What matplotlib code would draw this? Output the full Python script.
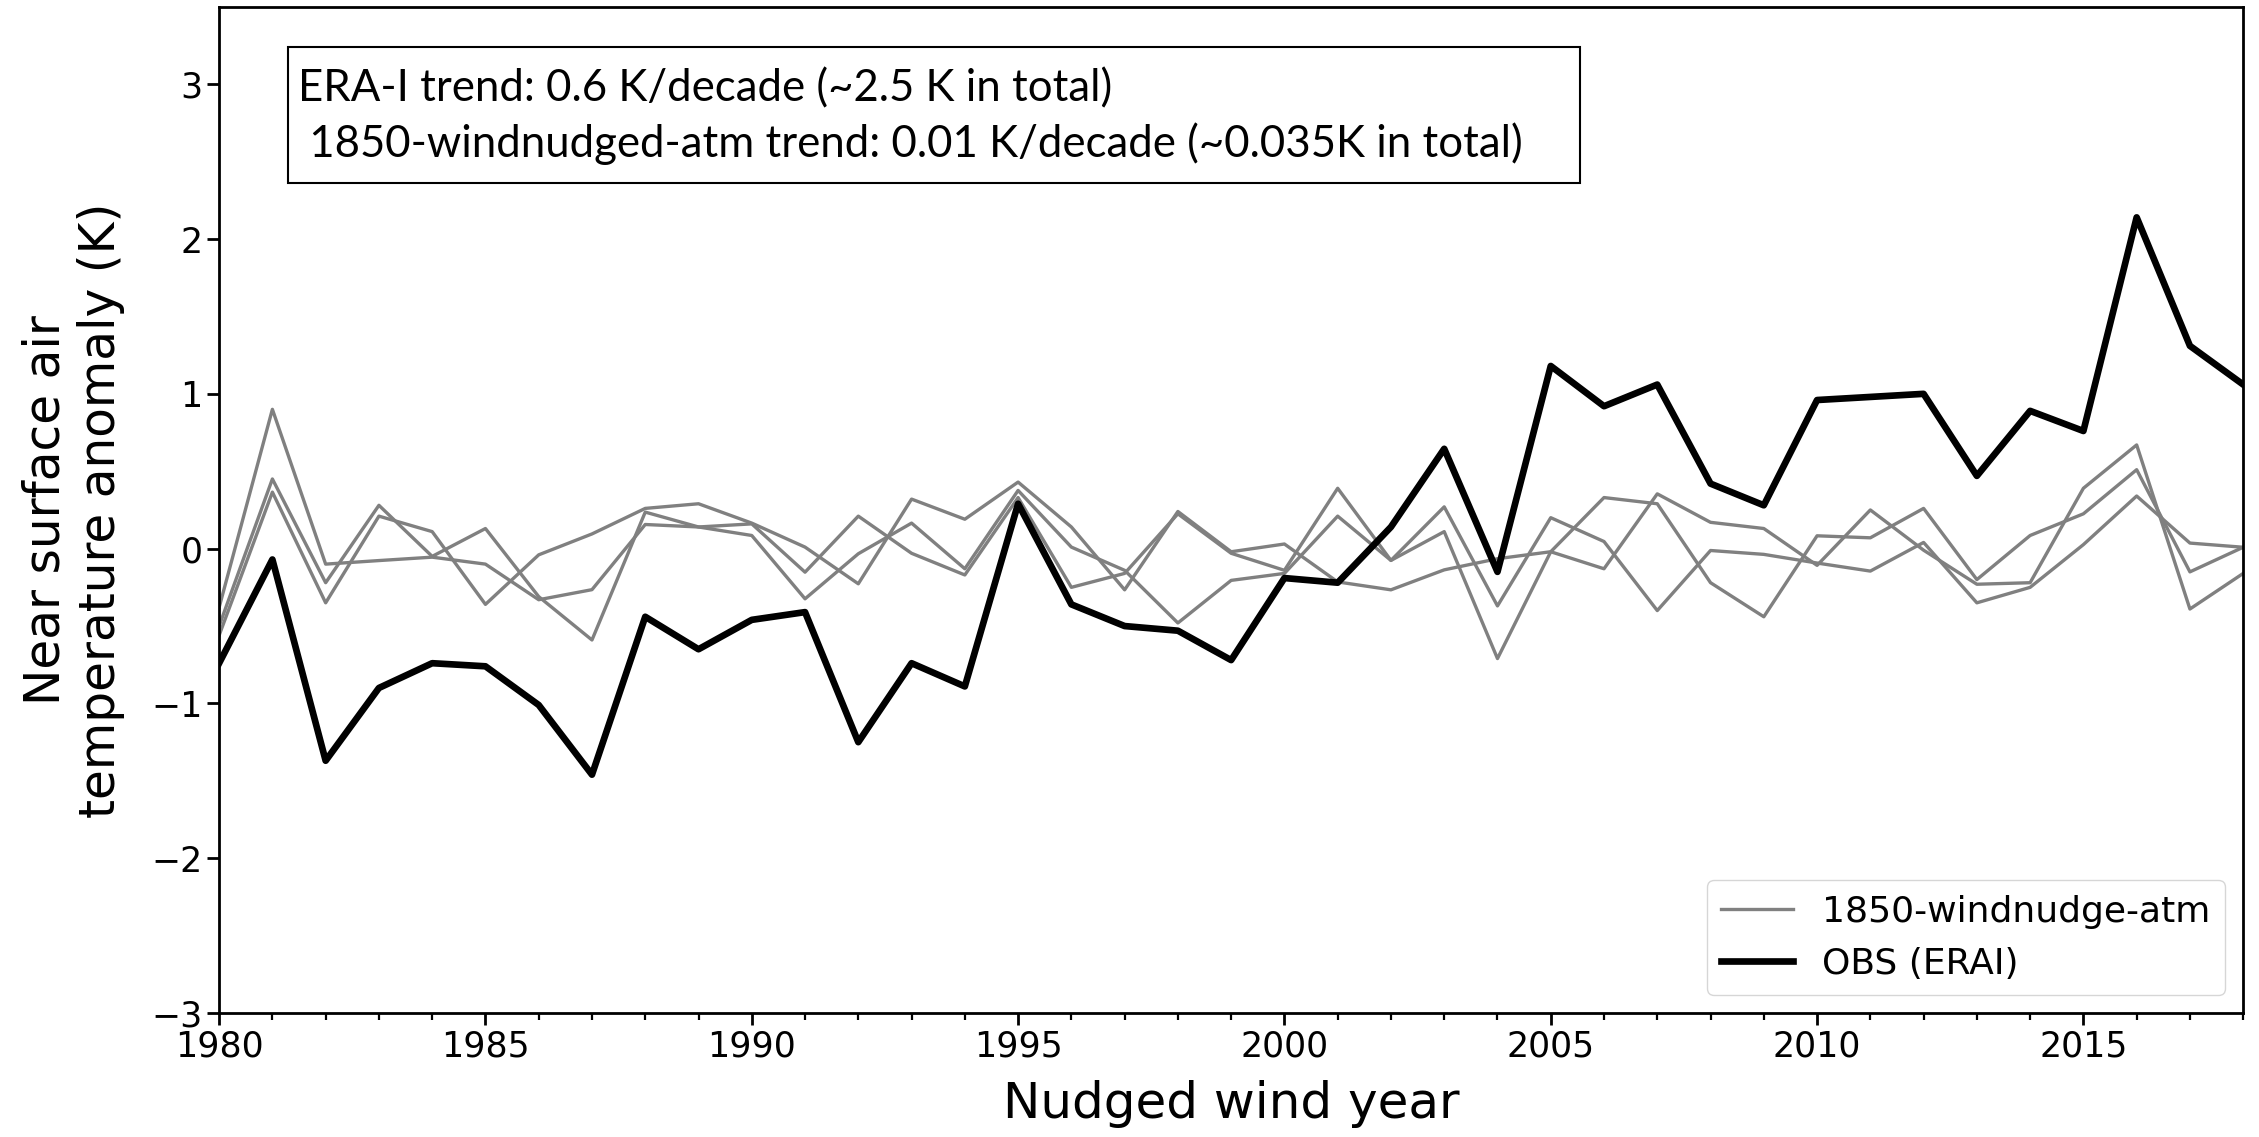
import numpy as np
import matplotlib
matplotlib.use("Agg")
import matplotlib.pyplot as plt
from matplotlib.patches import Rectangle
from matplotlib.ticker import MultipleLocator

years = np.arange(1980, 2019)

# OBS (ERAI) anomaly
obs = [-0.74, -0.07, -1.37, -0.90, -0.74, -0.76, -1.01, -1.46, -0.44, -0.65,
       -0.46, -0.41, -1.25, -0.74, -0.89, 0.29, -0.36, -0.50, -0.53, -0.72,
       -0.19, -0.22, 0.14, 0.645, -0.15, 1.18, 0.92, 1.06, 0.42, 0.28,
       0.96, 0.98, 1.00, 0.47, 0.89, 0.76, 2.14, 1.31, 1.06]

# 1850-windnudge-atm members
mem1 = [-0.38, 0.90, -0.10, -0.077, -0.055, -0.10, -0.33, -0.265, 0.156, 0.14,
        0.085, -0.324, -0.033, 0.165, -0.13, 0.376, 0.01, -0.14, -0.48, -0.205,
        -0.16, 0.21, -0.076, 0.11, -0.71, -0.02, -0.13, 0.354, 0.17, 0.13,
        -0.108, 0.25, -0.01, -0.23, -0.22, 0.39, 0.67, -0.39, -0.16]
mem2 = [-0.50, 0.45, -0.22, 0.28, -0.05, 0.13, -0.31, -0.59, 0.236, 0.14,
        0.16, -0.152, 0.21, -0.03, -0.17, 0.33, -0.25, -0.16, 0.225, -0.03,
        -0.14, 0.39, -0.076, 0.27, -0.37, 0.20, 0.046, -0.40, -0.012, -0.037,
        -0.093, -0.145, 0.04, -0.35, -0.25, 0.026, 0.34, 0.036, 0.009]
mem3 = [-0.56, 0.365, -0.35, 0.21, 0.11, -0.36, -0.04, 0.095, 0.26, 0.29,
        0.165, 0.01, -0.227, 0.32, 0.19, 0.43, 0.14, -0.266, 0.24, -0.02,
        0.03, -0.215, -0.266, -0.137, -0.065, -0.02, 0.33, 0.29, -0.22, -0.44,
        0.083, 0.07, 0.26, -0.20, 0.085, 0.225, 0.51, -0.15, 0.009]
members = [mem1, mem2, mem3]

line1 = "ERA-I trend: 0.6 K/decade (~2.5 K in total)"
line2 = " 1850-windnudged-atm trend: 0.01 K/decade (~0.035K in total)"

fig = plt.figure(figsize=(22.59, 11.37), dpi=100)
ax = fig.add_axes([0.097, 0.109, 0.896, 0.885])

for i, m in enumerate(members):
    ax.plot(years, m, color='gray', lw=2.4,
            label='1850-windnudge-atm' if i == 0 else None)
ax.plot(years, obs, color='black', lw=4.8, label='OBS (ERAI)')

ax.set_xlim(1980, 2018)
ax.set_ylim(-3, 3.5)
ax.set_yticks([-3, -2, -1, 0, 1, 2, 3])
ax.xaxis.set_major_locator(MultipleLocator(5))
ax.xaxis.set_minor_locator(MultipleLocator(1))

for s in ax.spines.values():
    s.set_linewidth(2)
ax.tick_params(which='major', length=8.5, width=2, labelsize=25)
ax.tick_params(which='minor', length=5, width=1.6)

ax.set_xlabel("Nudged wind year", fontsize=36, labelpad=12)
ax.set_ylabel("Near surface air\ntemperature anomaly (K)", fontsize=35, labelpad=19)

ax.legend(loc='lower right', fontsize=26, handlelength=2.0,
          borderaxespad=0.5)

# trend annotation box
ax.add_patch(Rectangle((0.034, 0.825), 0.6385, 0.135, transform=ax.transAxes,
                       fill=False, edgecolor='black', lw=1.5, zorder=5))
tfam = ['Lato', 'DejaVu Sans']
ax.text(0.039, 0.906, line1, transform=ax.transAxes, va='baseline',
        fontsize=31.5, family=tfam)
ax.text(0.039, 0.851, line2, transform=ax.transAxes, va='baseline',
        fontsize=31.5, family=tfam)

fig.savefig("out.png", dpi=100)
